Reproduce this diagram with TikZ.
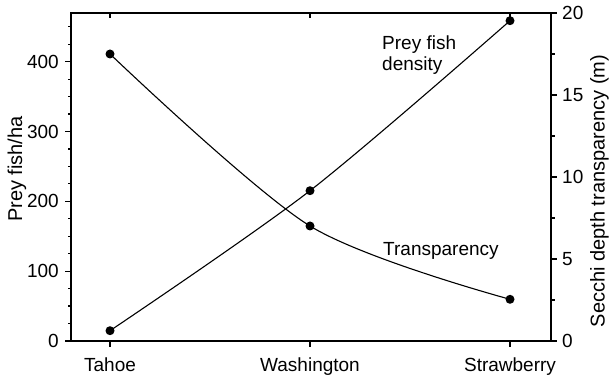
\documentclass[tikz,border=0pt]{standalone}
\usepackage{fontspec}
\setmainfont{Liberation Sans}
\begin{document}
\begin{tikzpicture}[x=1pt,y=1pt,
  frame/.style={line width=1.8pt},
  tickline/.style={line width=1.2pt},
  curve/.style={line width=1.1pt, smooth, tension=0.5},
  dot/.style={circle, fill=black, inner sep=0pt, minimum size=9pt},
  lab/.style={font=\fontsize{19}{19}\selectfont, inner sep=0pt},
  title/.style={font=\fontsize{20}{20}\selectfont, inner sep=0pt, rotate=90, anchor=base}]
\useasboundingbox (0,0) rectangle (609,379);
% frame
\draw[frame] (71,38) rectangle (551,366);
% left axis ticks
\foreach \v in {25,50,...,450} \draw[tickline] (71,{38+\v*0.6983}) -- ++(-3.5,0);
\foreach \v in {0,100,200,300,400} {
  \draw[tickline] (71,{38+\v*0.6983}) -- ++(-6,0);
  \node[lab, anchor=east] (yl\v) at (59,{38+\v*0.6983}) {\v};
}
% right axis ticks
\foreach \w in {2.5,7.5,12.5,17.5} \draw[tickline] (551,{38+\w*16.4}) -- ++(3.5,0);
\foreach \w in {0,5,10,15,20} {
  \draw[tickline] (551,{38+\w*16.4}) -- ++(6,0);
  \node[lab, anchor=west] (yr\w) at (562,{38+\w*16.4}) {\w};
}
% category ticks and labels
\foreach \x/\n in {110/Tahoe,310/Washington,510/Strawberry} {
  \draw[tickline] (\x,38) -- ++(0,-6);
  \draw[tickline] (\x,366) -- ++(0,-5);
  \node[lab, anchor=base] (x\n) at (\x,7.3) {\n};
}
% axis titles
\node[title] (ytl) at (22,210) {Prey fish/ha};
\node[title] (ytr) at (604.5,188) {Secchi depth transparency (m)};
% data
\coordinate (pa) at (110,48.3);
\coordinate (pb) at (310,188.3);
\coordinate (pc) at (510,358.3);
\coordinate (ta) at (110,325);
\coordinate (tb) at (310,153);
\coordinate (tc) at (510,79.7);
\draw[curve] plot coordinates {(pa) (pb) (pc)};
\draw[curve] plot coordinates {(ta) (tb) (tc)};
\foreach \c in {pa,pb,pc,ta,tb,tc} \node[dot] (d\c) at (\c) {};
% curve labels
\node[lab, anchor=base west] (lp1) at (382,329) {Prey fish};
\node[lab, anchor=base west] (lp2) at (382,308) {density};
\node[lab, anchor=base west] (lt) at (383,123) {Transparency};
\end{tikzpicture}
\end{document}
